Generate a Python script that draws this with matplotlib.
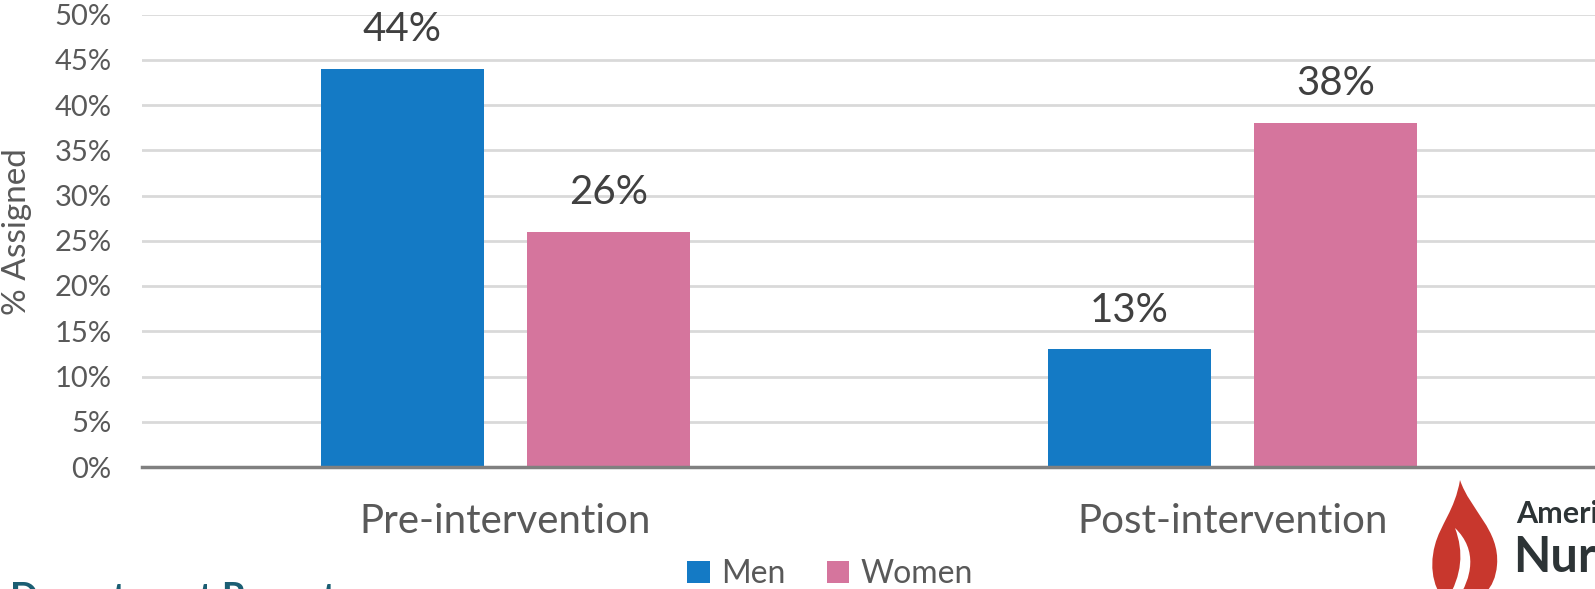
import matplotlib.pyplot as plt
import numpy as np
from matplotlib.patches import PathPatch
from matplotlib.path import Path

plt.rcParams["font.family"] = ["Lato", "DejaVu Sans"]

# data
categories = ["Pre-intervention", "Post-intervention"]
men = [44, 13]
women = [26, 38]
y_ticks = list(range(0, 55, 5))

BLUE = "#147AC5"
PINK = "#D5759D"
GREY_TEXT = "#595959"


def draw_logo(fig):
    # overlay in pixel coordinates for the cut-off logo and footer
    ov = fig.add_axes([0, 0, 1, 1], zorder=-1)
    ov.set_xlim(0, 1595)
    ov.set_ylim(589, 0)
    ov.axis("off")
    flame = Path(
        [(1460, 480), (1470, 510), (1500, 530), (1497, 565),
         (1495, 590), (1480, 600), (1465, 605), (1450, 605),
         (1435, 595), (1428, 570), (1435, 545),
         (1440, 525), (1455, 510), (1460, 480), (1460, 480)],
        [Path.MOVETO, Path.CURVE4, Path.CURVE4, Path.CURVE4,
         Path.CURVE4, Path.CURVE4, Path.CURVE4, Path.LINETO,
         Path.CURVE4, Path.CURVE4, Path.CURVE4,
         Path.CURVE4, Path.CURVE4, Path.CURVE4, Path.CLOSEPOLY],
    )
    ov.add_patch(PathPatch(flame, facecolor="#C8372D", edgecolor="none"))
    swoosh = Path(
        [(1455, 528), (1478, 550), (1472, 578), (1457, 600),
         (1447, 600), (1462, 575), (1464, 552), (1455, 528),
         (1455, 528)],
        [Path.MOVETO, Path.CURVE4, Path.CURVE4, Path.CURVE4,
         Path.LINETO, Path.CURVE4, Path.CURVE4, Path.CURVE4,
         Path.CLOSEPOLY],
    )
    ov.add_patch(PathPatch(swoosh, facecolor="white", edgecolor="none"))
    ov.text(1516, 523, "American", fontsize=22, fontweight="bold",
            color="#2D3436", va="baseline", ha="left")
    ov.text(1513, 572, "Nurse", fontsize=35, fontweight="bold",
            color="#2D3436", va="baseline", ha="left")
    ov.text(10, 582, "Department Report", fontsize=27, fontweight="bold",
            color="#1B5E73", va="top", ha="left")


def main():
    fig = plt.figure(figsize=(15.95, 5.89), dpi=100)
    ax = fig.add_axes([142 / 1595, (589 - 467) / 589, 1454 / 1595, 452.5 / 589])

    x = np.arange(len(categories))
    width = 0.224
    offset = (width + 0.06) / 2
    b1 = ax.bar(x - offset, men, width, color=BLUE, label="Men", zorder=3)
    b2 = ax.bar(x + offset, women, width, color=PINK, label="Women", zorder=3)

    for bars in (b1, b2):
        for bar in bars:
            h = bar.get_height()
            ax.annotate(f"{h:.0f}%", (bar.get_x() + bar.get_width() / 2, h),
                        xytext=(0, 15), textcoords="offset points",
                        ha="center", va="bottom", fontsize=29, color="#404040")

    ax.set_xlim(-0.5, 1.5)
    ax.set_ylim(0, 50)
    ax.set_yticks(y_ticks)
    ax.set_yticklabels([f"{t}%" for t in y_ticks])
    ax.set_xticks(x)
    ax.set_xticklabels(categories)
    ax.tick_params(axis="y", length=0, pad=22, labelsize=21, labelcolor=GREY_TEXT)
    ax.tick_params(axis="x", length=0, pad=26, labelsize=29, labelcolor=GREY_TEXT)
    ax.grid(axis="y", color="#D9D9D9", linewidth=2, zorder=0)
    for side in ("top", "right", "left"):
        ax.spines[side].set_visible(False)
    ax.spines["bottom"].set_color("#808080")
    ax.spines["bottom"].set_linewidth(2.5)
    ax.spines["bottom"].set_zorder(4)
    ax.set_ylabel("% Assigned", fontsize=24, color=GREY_TEXT)
    ax.yaxis.set_label_coords(-0.0755, 0.52)

    fig.legend(loc="center", bbox_to_anchor=(830 / 1595, (589 - 574) / 589),
               ncol=2, frameon=False, fontsize=23, handlelength=0.7,
               handleheight=0.7, handletextpad=0.35, columnspacing=1.3,
               labelcolor=GREY_TEXT)

    draw_logo(fig)
    fig.savefig("out.png", dpi=100)


if __name__ == "__main__":
    main()
